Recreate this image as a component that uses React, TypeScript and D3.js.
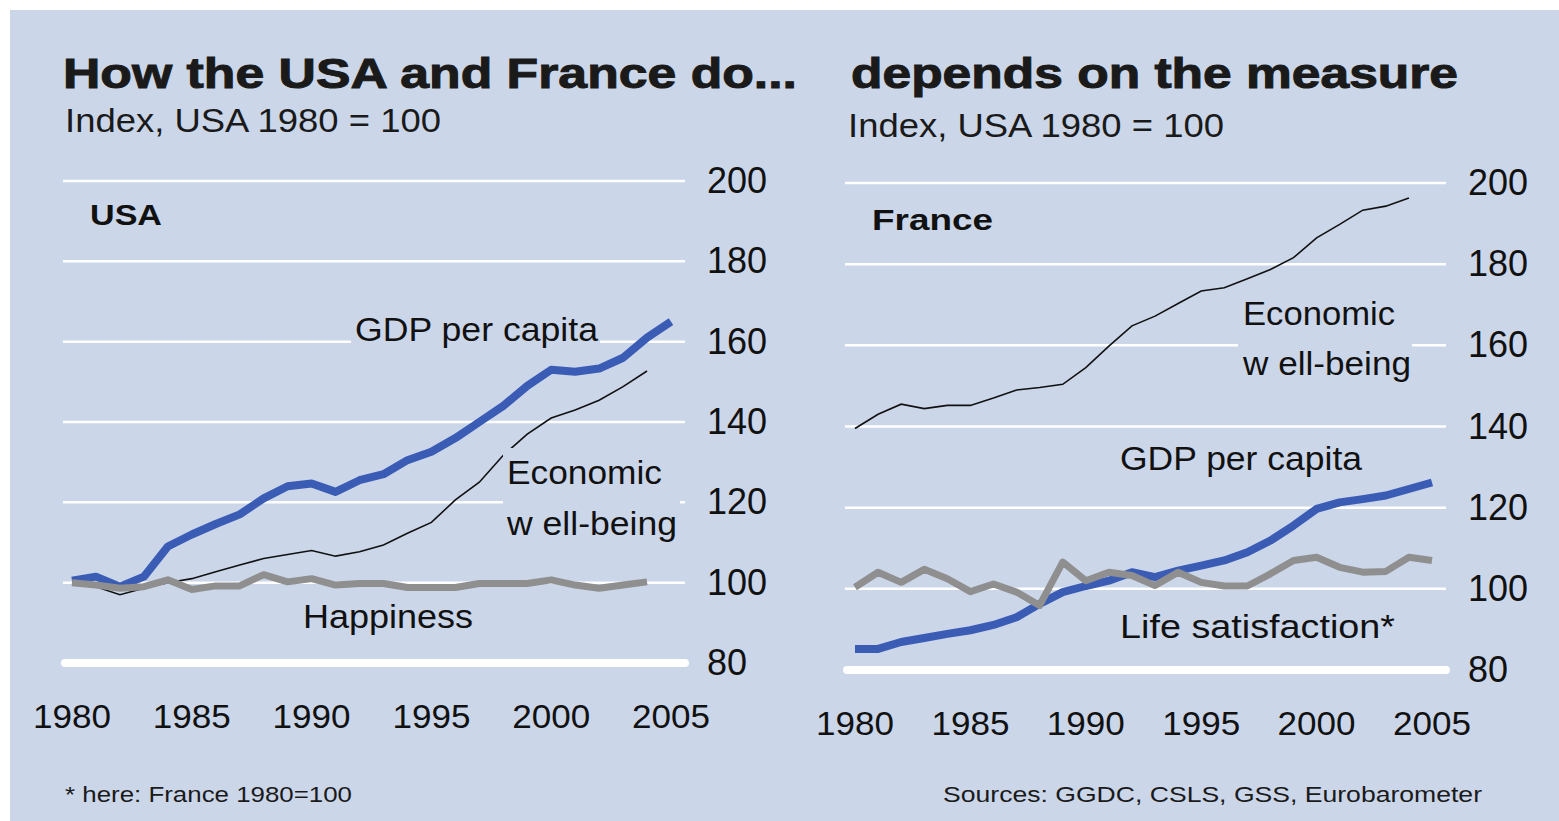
import React from 'react';
import * as d3 from 'd3';

// Years on the x axis
const years = [1980, 1981, 1982, 1983, 1984, 1985, 1986, 1987, 1988, 1989, 1990, 1991, 1992,
  1993, 1994, 1995, 1996, 1997, 1998, 1999, 2000, 2001, 2002, 2003, 2004, 2005];

// USA panel (index, USA 1980 = 100)
const usaGdp = [100.5, 101.5, 99, 101.5, 109, 112, 114.6, 117, 121, 124, 124.7, 122.6, 125.5,
  127, 130.5, 132.6, 136, 140, 144, 149, 153, 152.5, 153.3, 156, 161, 165];
const usaEcon = [100, 99, 97, 98.6, 100, 101, 102.7, 104.4, 106, 107, 108, 106.6, 107.7,
  109.4, 112.3, 115, 120.6, 125, 131.7, 137, 141, 143, 145.4, 148.8, 152.7];
const usaHappy = [100, 99.4, 98.6, 99, 100.7, 98.3, 99.2, 99.2, 102, 100.2, 101, 99.4, 99.8,
  99.8, 98.8, 98.8, 98.8, 99.8, 99.8, 99.8, 100.7, 99.4, 98.6, 99.4, 100.2];

// France panel
const frEcon = [139.5, 143, 145.5, 144.4, 145.2, 145.2, 147, 149, 149.6, 150.4, 154.5, 159.8, 164.8,
  167.2, 170.3, 173.4, 174.2, 176.4, 178.7, 181.6, 186.5, 189.8, 193.3, 194.3, 196.3];
const frGdp = [85.2, 85.2, 86.9, 87.9, 88.9, 89.8, 91.1, 93, 96.3, 99.2, 100.7, 102, 104.1,
  102.9, 104.5, 105.7, 107, 109, 111.9, 115.6, 119.7, 121.3, 122.1, 123, 124.6, 126.2];
const frLife = [100.4, 104.1, 101.6, 104.8, 102.5, 99.3, 101.2, 99.2, 95.9, 106.6, 102, 104.1, 103.3,
  100.8, 104.1, 101.6, 100.7, 100.7, 103.7, 107, 107.8, 105.3, 104.1, 104.3, 107.8, 107];

const yTicks = [80, 100, 120, 140, 160, 180, 200];
const xTicks = [1980, 1985, 1990, 1995, 2000, 2005];

const BG = '#cbd6e9';
const BLUE = '#3b5cb5';
const GRAY = '#8f8f8f';
const FONT = '"Liberation Sans", Arial, sans-serif';

type Label = { text: string; x: number; y: number; w: number; size?: number; bg?: number[] };

type PanelProps = {
  x0: number; x1: number; yTop: number; yBot: number;
  gridL: number; gridR: number; tickX: number; yearY: number;
  gdp: number[]; econ: number[]; soft: number[];
  name: string; nameX: number; nameY: number; nameW: number;
  labels: Label[];
};

function Panel(p: PanelProps) {
  const x = d3.scaleLinear().domain([1980, 2005]).range([p.x0, p.x1]);
  const y = d3.scaleLinear().domain([80, 200]).range([p.yBot, p.yTop]);
  const line = d3.line<number>().x((_, i) => x(years[i])).y(d => y(d));

  return (
    <g>
      {yTicks.map(t => (
        <g key={t}>
          {t === 80 ? (
            <line x1={p.gridL + 2} x2={p.gridR} y1={y(t)} y2={y(t)} stroke="#fff"
              strokeWidth={8} strokeLinecap="round" />
          ) : (
            <line x1={p.gridL} x2={p.gridR} y1={y(t)} y2={y(t)} stroke="#fff" strokeWidth={2.5} />
          )}
          <text x={p.tickX} y={y(t) + 12} fontSize={36} fontFamily={FONT} fill="#111">{t}</text>
        </g>
      ))}
      {xTicks.map(t => (
        <text key={t} x={x(t)} y={p.yearY} fontSize={34} fontFamily={FONT} fill="#111"
          textAnchor="middle" textLength={78} lengthAdjust="spacingAndGlyphs">{t}</text>
      ))}
      <path d={line(p.gdp) ?? ''} fill="none" stroke={BLUE} strokeWidth={8} strokeLinejoin="round" />
      <path d={line(p.econ) ?? ''} fill="none" stroke="#111" strokeWidth={1.6} />
      <path d={line(p.soft) ?? ''} fill="none" stroke={GRAY} strokeWidth={7} strokeLinejoin="round" />
      {p.labels.map((l, i) => (
        <g key={i}>
          {l.bg && <rect x={l.bg[0]} y={l.bg[1]} width={l.bg[2]} height={l.bg[3]} fill={BG} />}
        </g>
      ))}
      {p.labels.map((l, i) => (
        <text key={i} x={l.x} y={l.y} fontSize={l.size ?? 34} fontFamily={FONT} fill="#111"
          textLength={l.w} lengthAdjust="spacingAndGlyphs">{l.text}</text>
      ))}
      <text x={p.nameX} y={p.nameY} fontSize={30} fontWeight="bold" fontFamily={FONT} fill="#111"
        textLength={p.nameW} lengthAdjust="spacingAndGlyphs">{p.name}</text>
    </g>
  );
}

export default function App() {
  return (
    <svg width={1559} height={821} style={{ position: 'absolute', left: 0, top: 0 }}>
      <rect x={0} y={0} width={1559} height={821} fill="#fff" />
      <rect x={10} y={10} width={1549} height={811} fill={BG} />

      <text x={63} y={88} fontSize={42} fontWeight="bold" fontFamily={FONT} fill="#1a1a1a"
        stroke="#1a1a1a" strokeWidth={1}
        textLength={734} lengthAdjust="spacingAndGlyphs">How the USA and France do...</text>
      <text x={851} y={88} fontSize={42} fontWeight="bold" fontFamily={FONT} fill="#1a1a1a"
        stroke="#1a1a1a" strokeWidth={1}
        textLength={607} lengthAdjust="spacingAndGlyphs">depends on the measure</text>
      <text x={65} y={132} fontSize={33} fontFamily={FONT} fill="#1a1a1a"
        textLength={376} lengthAdjust="spacingAndGlyphs">Index, USA 1980 = 100</text>
      <text x={848} y={137} fontSize={33} fontFamily={FONT} fill="#1a1a1a"
        textLength={376} lengthAdjust="spacingAndGlyphs">Index, USA 1980 = 100</text>

      <Panel x0={72} x1={671} yTop={181} yBot={663} gridL={63} gridR={685} tickX={707} yearY={728}
        gdp={usaGdp} econ={usaEcon} soft={usaHappy}
        name="USA" nameX={90} nameY={225} nameW={72}
        labels={[
          { text: 'GDP per capita', x: 355, y: 341, w: 243, bg: [351, 314, 249, 40] },
          { text: 'Economic', x: 507, y: 484, w: 155, bg: [503, 448, 177, 98] },
          { text: 'w ell-being', x: 507, y: 535, w: 170 },
          { text: 'Happiness', x: 303, y: 628, w: 170 },
        ]} />

      <Panel x0={855} x1={1432} yTop={183} yBot={670} gridL={845} gridR={1446} tickX={1468} yearY={735}
        gdp={frGdp} econ={frEcon} soft={frLife}
        name="France" nameX={872} nameY={230} nameW={121}
        labels={[
          { text: 'Economic', x: 1243, y: 325, w: 152, bg: [1238, 292, 174, 96] },
          { text: 'w ell-being', x: 1243, y: 375, w: 168 },
          { text: 'GDP per capita', x: 1120, y: 470, w: 242 },
          { text: 'Life satisfaction*', x: 1120, y: 638, w: 275 },
        ]} />

      <text x={65} y={802} fontSize={22} fontFamily={FONT} fill="#1a1a1a"
        textLength={287} lengthAdjust="spacingAndGlyphs">* here: France 1980=100</text>
      <text x={943} y={802} fontSize={22} fontFamily={FONT} fill="#1a1a1a"
        textLength={539} lengthAdjust="spacingAndGlyphs">Sources: GGDC, CSLS, GSS, Eurobarometer</text>
    </svg>
  );
}
